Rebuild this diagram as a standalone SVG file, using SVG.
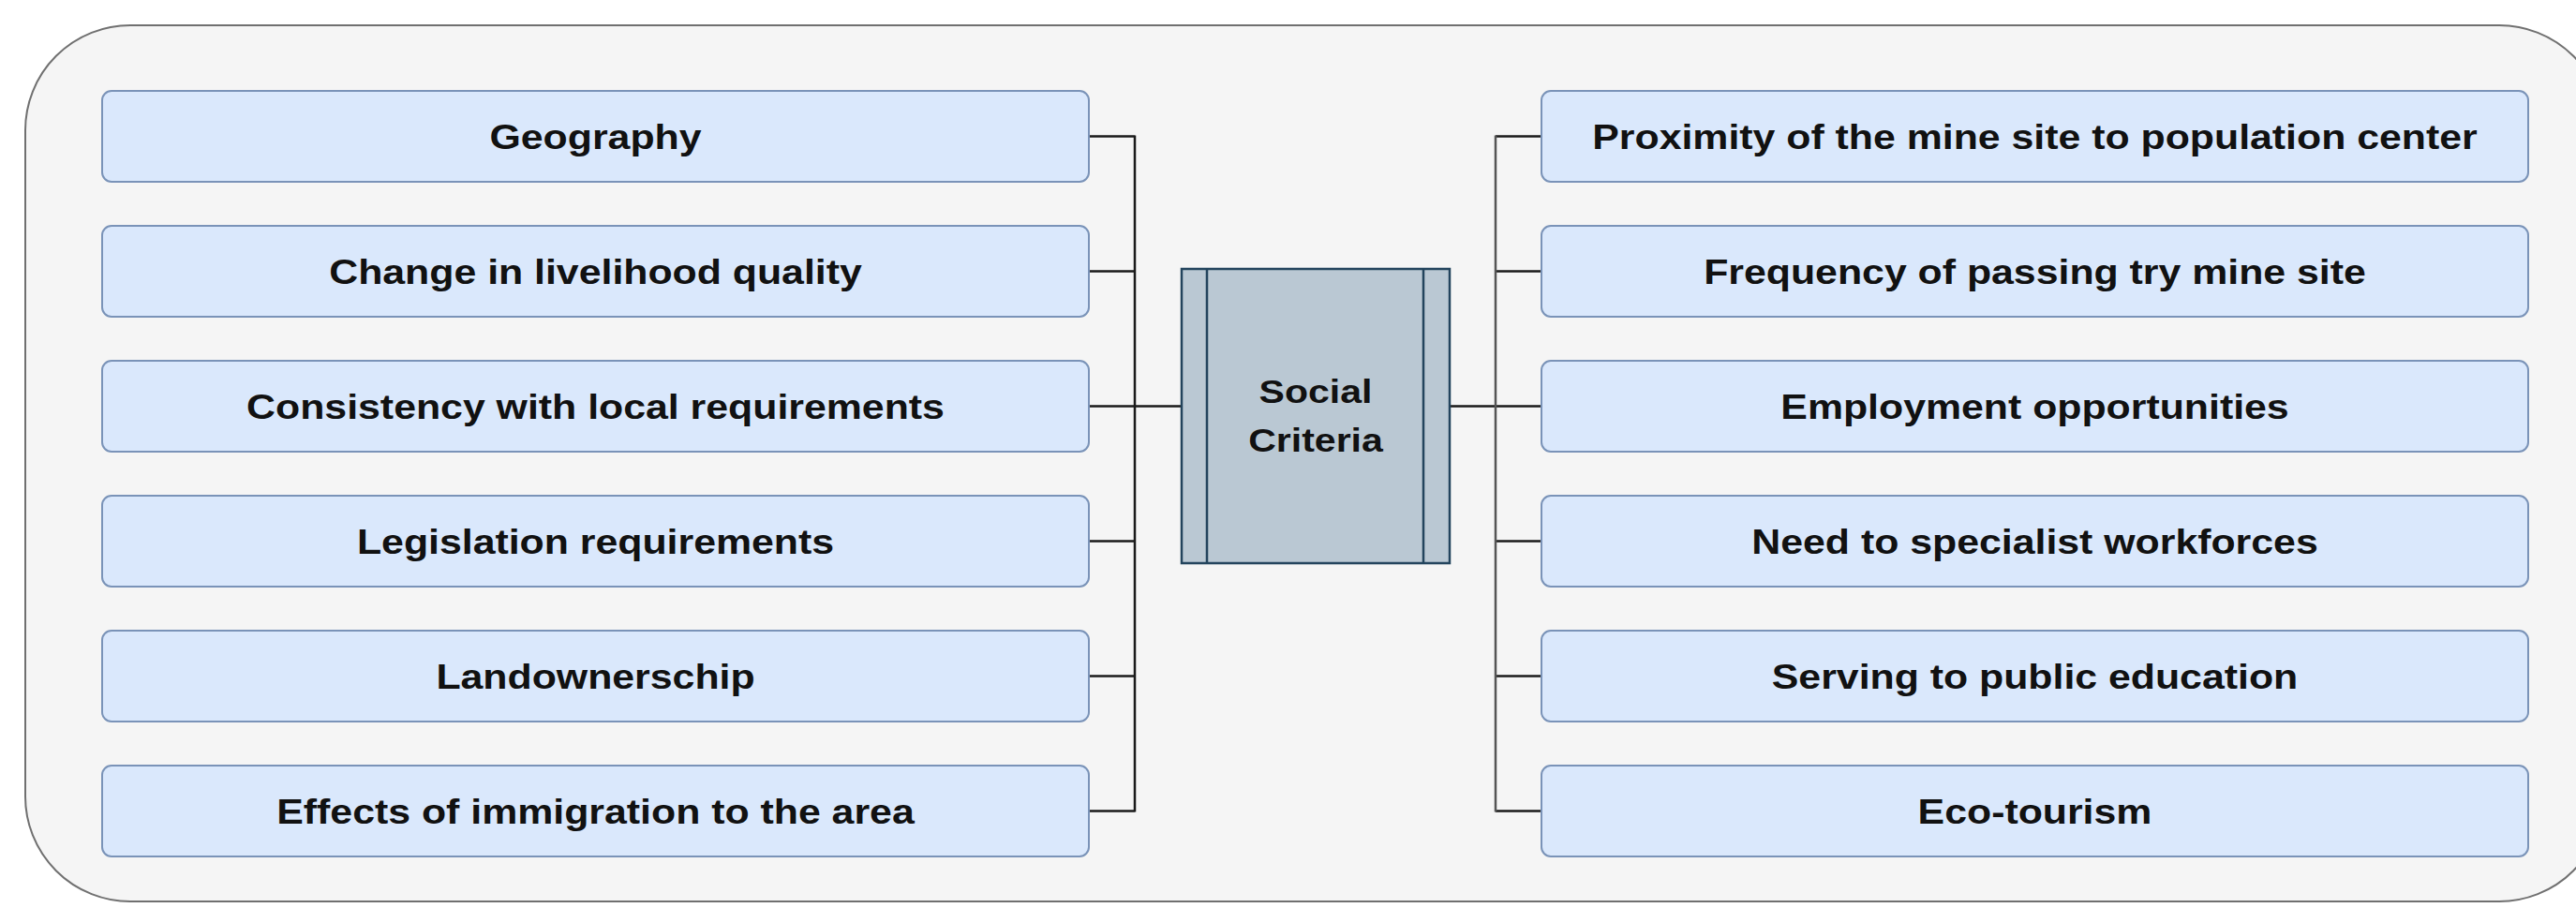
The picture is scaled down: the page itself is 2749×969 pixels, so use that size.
<svg xmlns="http://www.w3.org/2000/svg" width="2749" height="969" viewBox="0 0 2749 969">
<style>
.bg{fill:#ffffff}
.outer{fill:#f5f5f5;stroke:#707070;stroke-width:2}
.box{fill:#dae8fc;stroke:#7a93b8;stroke-width:2}
.center{fill:#bac8d3;stroke:#23445d;stroke-width:2.5}
.lbl{font-family:"Liberation Sans",Arial,sans-serif;font-weight:bold;font-size:36px;fill:#111111;text-anchor:middle}
.conn{fill:none;stroke:#1a1a1a;stroke-width:2.5}
.connr{fill:none;stroke:#555555;stroke-width:2.5}
</style>
<rect class="bg" x="0" y="0" width="2749" height="969"/>
<rect id="container" class="outer" x="27" y="27" width="2752" height="935" rx="112" ry="112"/>
<g id="connectors">
<path class="conn" d="M1162 145.5H1211M1162 289.5H1211M1162 433.5H1211M1162 577.5H1211M1162 721.5H1211M1162 865.5H1211M1211 144.5V866.5M1211 433.5H1261"/>
<path class="conn" d="M1596 145.5H1645M1596 289.5H1645M1596 433.5H1645M1596 577.5H1645M1596 721.5H1645M1596 865.5H1645M1547 433.5H1596"/>
<path class="connr" d="M1596 144.5V866.5"/>
</g>
<g id="center-node">
<rect class="center" x="1261" y="287" width="286" height="314"/>
<line x1="1288" y1="287" x2="1288" y2="601" stroke="#23445d" stroke-width="2.5"/>
<line x1="1519" y1="287" x2="1519" y2="601" stroke="#23445d" stroke-width="2.5"/>
<text class="lbl" transform="translate(1404 430) scale(1.14 1)" font-size="38">Social</text>
<text class="lbl" transform="translate(1404 482) scale(1.14 1)" font-size="38">Criteria</text>
</g>
<g id="left-1"><rect class="box" x="109" y="97" width="1053" height="97" rx="10"/><text class="lbl" transform="translate(635.5 158.5) scale(1.19 1)">Geography</text></g>
<g id="left-2"><rect class="box" x="109" y="241" width="1053" height="97" rx="10"/><text class="lbl" transform="translate(635.5 302.5) scale(1.19 1)">Change in livelihood quality</text></g>
<g id="left-3"><rect class="box" x="109" y="385" width="1053" height="97" rx="10"/><text class="lbl" transform="translate(635.5 446.5) scale(1.19 1)">Consistency with local requirements</text></g>
<g id="left-4"><rect class="box" x="109" y="529" width="1053" height="97" rx="10"/><text class="lbl" transform="translate(635.5 590.5) scale(1.19 1)">Legislation requirements</text></g>
<g id="left-5"><rect class="box" x="109" y="673" width="1053" height="97" rx="10"/><text class="lbl" transform="translate(635.5 734.5) scale(1.19 1)">Landownerschip</text></g>
<g id="left-6"><rect class="box" x="109" y="817" width="1053" height="97" rx="10"/><text class="lbl" transform="translate(635.5 878.5) scale(1.19 1)">Effects of immigration to the area</text></g>
<g id="right-1"><rect class="box" x="1645" y="97" width="1053" height="97" rx="10"/><text class="lbl" transform="translate(2171.5 158.5) scale(1.19 1)">Proximity of the mine site to population center</text></g>
<g id="right-2"><rect class="box" x="1645" y="241" width="1053" height="97" rx="10"/><text class="lbl" transform="translate(2171.5 302.5) scale(1.19 1)">Frequency of passing try mine site</text></g>
<g id="right-3"><rect class="box" x="1645" y="385" width="1053" height="97" rx="10"/><text class="lbl" transform="translate(2171.5 446.5) scale(1.19 1)">Employment opportunities</text></g>
<g id="right-4"><rect class="box" x="1645" y="529" width="1053" height="97" rx="10"/><text class="lbl" transform="translate(2171.5 590.5) scale(1.19 1)">Need to specialist workforces</text></g>
<g id="right-5"><rect class="box" x="1645" y="673" width="1053" height="97" rx="10"/><text class="lbl" transform="translate(2171.5 734.5) scale(1.19 1)">Serving to public education</text></g>
<g id="right-6"><rect class="box" x="1645" y="817" width="1053" height="97" rx="10"/><text class="lbl" transform="translate(2171.5 878.5) scale(1.19 1)">Eco-tourism</text></g>
</svg>
